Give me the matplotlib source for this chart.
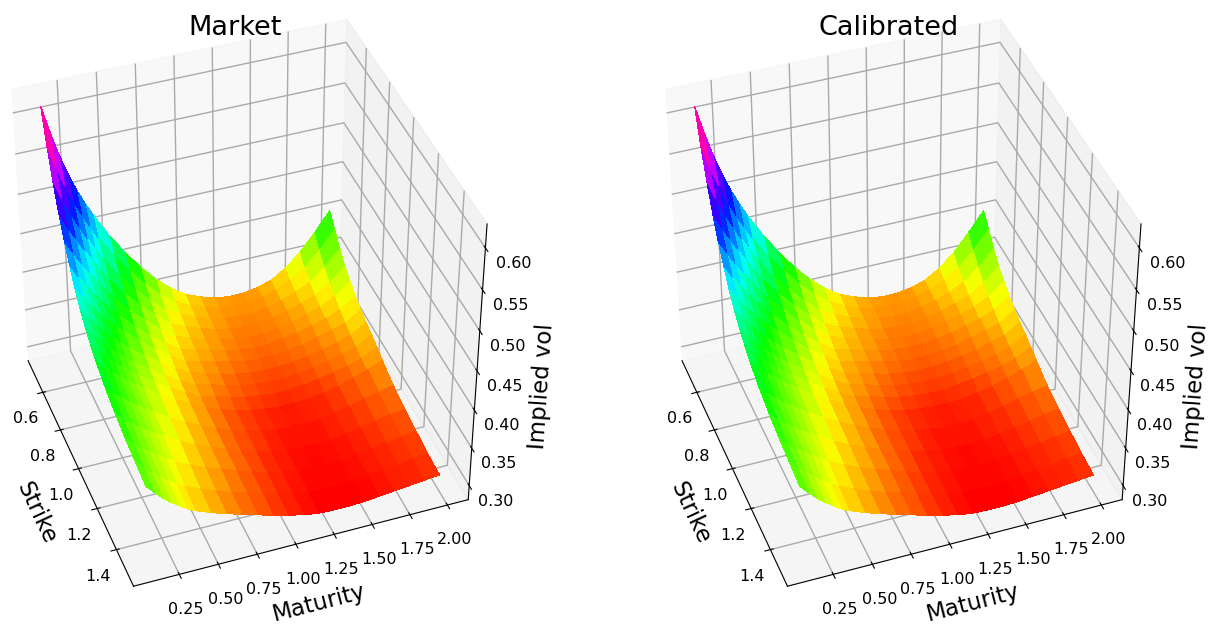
# Implied vol surfaces, market vs calibrated

import matplotlib
matplotlib.use("Agg")
import matplotlib.pyplot as plt
import numpy as np

strikes = [0.5, 0.55, 0.6, 0.65, 0.7, 0.75, 0.8, 0.85, 0.9, 0.95, 1.0, 1.1, 1.2, 1.3, 1.4, 1.5]
maturities = [0.1, 0.15, 0.2, 0.25, 0.3, 0.35, 0.4, 0.5, 0.6, 0.7, 0.8, 0.9,
              1.0, 1.1, 1.2, 1.3, 1.4, 1.5, 1.6, 1.7, 1.8, 1.9, 2.0]

# one row per strike, one column per maturity
market_vol = [
    [.618, .585, .555, .530, .508, .489, .472, .441, .415, .391, .371, .354, .341, .333, .327, .324, .324, .327, .333, .345, .362, .384, .408],
    [.580, .552, .528, .506, .487, .470, .454, .426, .402, .380, .361, .348, .338, .330, .325, .323, .323, .326, .332, .341, .353, .372, .394],
    [.548, .525, .505, .486, .469, .453, .438, .412, .390, .370, .353, .343, .334, .328, .323, .321, .321, .324, .329, .336, .345, .361, .380],
    [.520, .501, .484, .468, .452, .438, .424, .401, .381, .363, .347, .338, .331, .325, .321, .319, .319, .322, .326, .332, .339, .352, .368],
    [.497, .480, .465, .451, .437, .424, .412, .391, .373, .357, .342, .335, .328, .323, .319, .317, .317, .320, .323, .329, .335, .345, .360],
    [.478, .462, .448, .435, .423, .412, .401, .382, .365, .350, .337, .332, .326, .321, .317, .315, .315, .318, .321, .326, .331, .339, .352],
    [.460, .446, .433, .421, .411, .401, .392, .375, .359, .345, .333, .328, .323, .318, .314, .312, .312, .314, .317, .322, .327, .333, .346],
    [.446, .433, .421, .410, .400, .391, .383, .368, .354, .341, .330, .325, .319, .314, .311, .309, .309, .311, .314, .318, .323, .329, .341],
    [.435, .422, .411, .401, .392, .383, .376, .362, .349, .337, .327, .322, .316, .311, .308, .306, .306, .308, .311, .315, .319, .325, .337],
    [.426, .414, .404, .394, .386, .378, .371, .358, .345, .334, .324, .319, .313, .308, .305, .303, .303, .305, .308, .312, .316, .322, .332],
    [.418, .407, .398, .389, .381, .374, .367, .354, .342, .332, .322, .314, .308, .303, .300, .298, .298, .299, .302, .306, .312, .319, .327],
    [.407, .397, .389, .381, .374, .367, .361, .349, .338, .329, .320, .312, .306, .301, .298, .296, .296, .297, .300, .304, .309, .314, .318],
    [.399, .389, .381, .374, .367, .361, .355, .344, .334, .326, .318, .310, .304, .299, .296, .294, .294, .295, .298, .301, .305, .309, .312],
    [.393, .383, .375, .368, .361, .355, .349, .339, .330, .323, .316, .309, .303, .298, .295, .293, .293, .294, .296, .299, .302, .305, .308],
    [.389, .379, .370, .362, .355, .349, .343, .334, .326, .319, .313, .307, .301, .296, .293, .292, .292, .293, .295, .297, .299, .302, .304],
    [.385, .375, .365, .357, .350, .343, .338, .330, .323, .317, .311, .305, .300, .295, .292, .291, .291, .292, .294, .296, .298, .300, .302],
]
# the calibrated surface reads the same as the market one at this precision
calibrated_vol = market_vol

strike_ticks = [0.6, 0.8, 1.0, 1.2, 1.4]
maturity_ticks = [0.25, 0.50, 0.75, 1.00, 1.25, 1.50, 1.75, 2.00]
vol_ticks = [0.30, 0.35, 0.40, 0.45, 0.50, 0.55, 0.60]

plt.rcParams.update({
    "grid.linewidth": 1.0,
    "grid.color": "#aaaaaa",
})


def plot_surface(fig, rect, title, vol):
    ax = fig.add_axes(rect, projection="3d")
    grid_k, grid_t = np.meshgrid(strikes, maturities, indexing="ij")
    vol = np.array(vol)
    ax.plot_surface(grid_k, grid_t, vol, cmap="hsv", vmin=vol.min(), vmax=vol.max(),
                    linewidth=0, antialiased=False, rstride=1, cstride=1)
    ax.view_init(elev=40, azim=-20)
    ax.set_box_aspect((1, 1, 1), zoom=1.1)
    ax.set_xlim(0.427, 1.573)
    ax.set_ylim(-0.04, 2.14)
    ax.set_zlim(0.281, 0.628)
    ax.set_xticks(strike_ticks)
    ax.set_yticks(maturity_ticks)
    ax.set_zticks(vol_ticks)
    ax.set_yticklabels([f"{t:.2f}" for t in maturity_ticks])
    ax.set_zticklabels([f"{t:.2f}" for t in vol_ticks])
    ax.tick_params(labelsize=11.5)
    ax.set_xlabel("Strike", fontsize=16.5, labelpad=6)
    ax.set_ylabel("Maturity", fontsize=16.5, labelpad=4)
    ax.set_zlabel("Implied vol", fontsize=16.5, labelpad=6)
    ax.set_title(title, fontsize=19.5, y=1.063)
    return ax


def main():
    fig = plt.figure(figsize=(12.11, 6.26), dpi=100)
    plot_surface(fig, [-0.031, -0.016, 0.45, 1.06], "Market", market_vol)
    plot_surface(fig, [0.509, -0.016, 0.45, 1.06], "Calibrated", calibrated_vol)
    fig.savefig("out.png", dpi=100)


if __name__ == "__main__":
    main()
